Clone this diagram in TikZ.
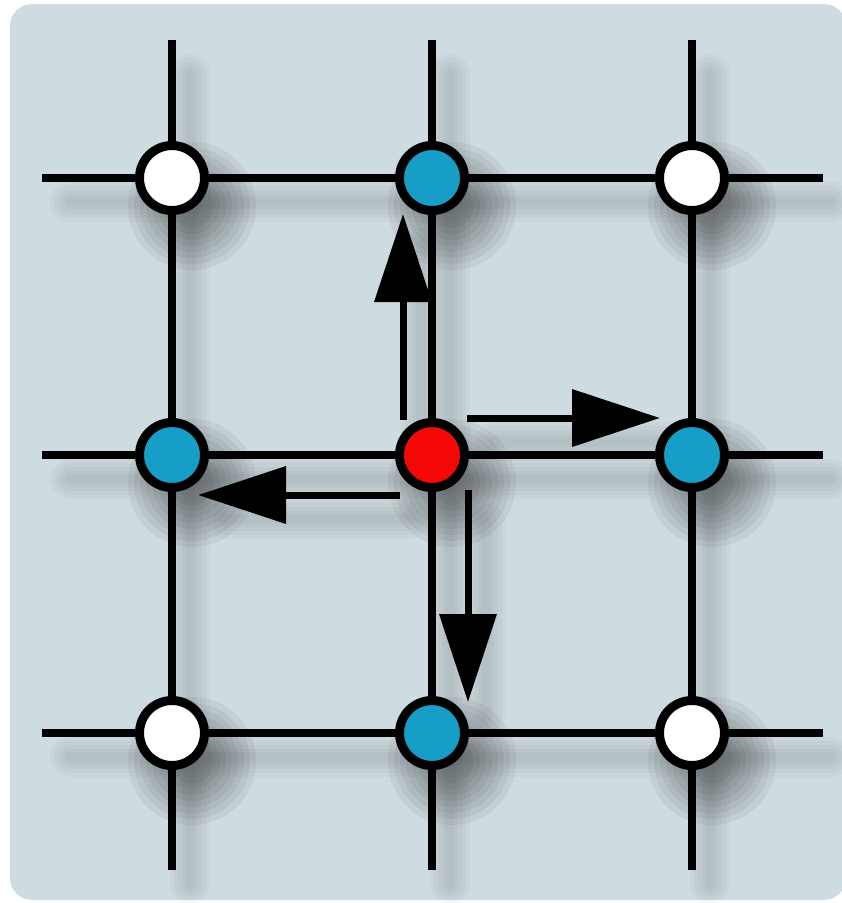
\documentclass[tikz,border=0pt]{standalone}
\usetikzlibrary{arrows.meta,calc}
\definecolor{bgc}{RGB}{206,219,224}
\definecolor{nodeblue}{RGB}{22,158,198}
\definecolor{nodered}{RGB}{244,8,8}
\tikzset{
  gridline/.style={line width=8pt, black},
  lineshadow/.style={black, line cap=round},
  site/.style={circle, draw=black, line width=9pt, minimum size=65pt, inner sep=0pt},
  whitesite/.style={site, fill=white},
  bluesite/.style={site, fill=nodeblue},
  redsite/.style={site, fill=nodered},
  hop/.style={line width=7pt, black, -{Triangle[length=88pt,width=56pt]}},
  lshift/.style={transform canvas={xshift=18pt,yshift=-24pt}},
}
\begin{document}
\begin{tikzpicture}[x=1pt,y=-1pt]
\useasboundingbox (0,0) rectangle (842,903);
\fill[bgc, rounded corners=22pt] (10,4) rectangle (846,900);

% coordinates of grid ends
\coordinate (t1) at (172,40);  \coordinate (b1) at (172,870);
\coordinate (t2) at (432,40);  \coordinate (b2) at (432,870);
\coordinate (t3) at (692,40);  \coordinate (b3) at (692,870);
\coordinate (l1) at (42,178);  \coordinate (r1) at (823,178);
\coordinate (l2) at (42,455);  \coordinate (r2) at (823,455);
\coordinate (l3) at (42,733);  \coordinate (r3) at (823,733);

% arrow endpoints
\coordinate (us) at (403,420); \coordinate (ue) at (403,214);
\coordinate (rs) at (467,418); \coordinate (re) at (660,418);
\coordinate (ls) at (400,495); \coordinate (le) at (198,495);
\coordinate (ds) at (468,490); \coordinate (de) at (468,702);

% soft line shadows
\foreach \w in {40,32,24,16,10}{
  \foreach \a/\b in {t1/b1,t2/b2,t3/b3,l1/r1,l2/r2,l3/r3,us/ue,rs/re,ls/le,ds/de}{
    \draw[lineshadow, lshift, line width=\w pt, opacity=0.022, shorten <=10pt, shorten >=10pt] (\a) -- (\b);
  }
}

% soft node shadows
\foreach \px/\py in {172/178,432/178,692/178,172/455,432/455,692/455,172/733,432/733,692/733}{
  \foreach \r in {64,58,52,46,40,34,28,22}{
    \fill[black, opacity=0.05] (\px+20,\py+28) circle (\r pt);
  }
}

% grid lines
\foreach \a/\b in {t1/b1,t2/b2,t3/b3,l1/r1,l2/r2,l3/r3}{
  \draw[gridline] (\a) -- (\b);
}

% nodes
\node[whitesite] (n11) at (172,178) {};
\node[bluesite]  (n12) at (432,178) {};
\node[whitesite] (n13) at (692,178) {};
\node[bluesite]  (n21) at (172,455) {};
\node[redsite]   (n22) at (432,455) {};
\node[bluesite]  (n23) at (692,455) {};
\node[whitesite] (n31) at (172,733) {};
\node[bluesite]  (n32) at (432,733) {};
\node[whitesite] (n33) at (692,733) {};

% hopping arrows
\draw[hop] (us) -- (ue);
\draw[hop] (rs) -- (re);
\draw[hop] (ls) -- (le);
\draw[hop] (ds) -- (de);
\end{tikzpicture}
\end{document}
